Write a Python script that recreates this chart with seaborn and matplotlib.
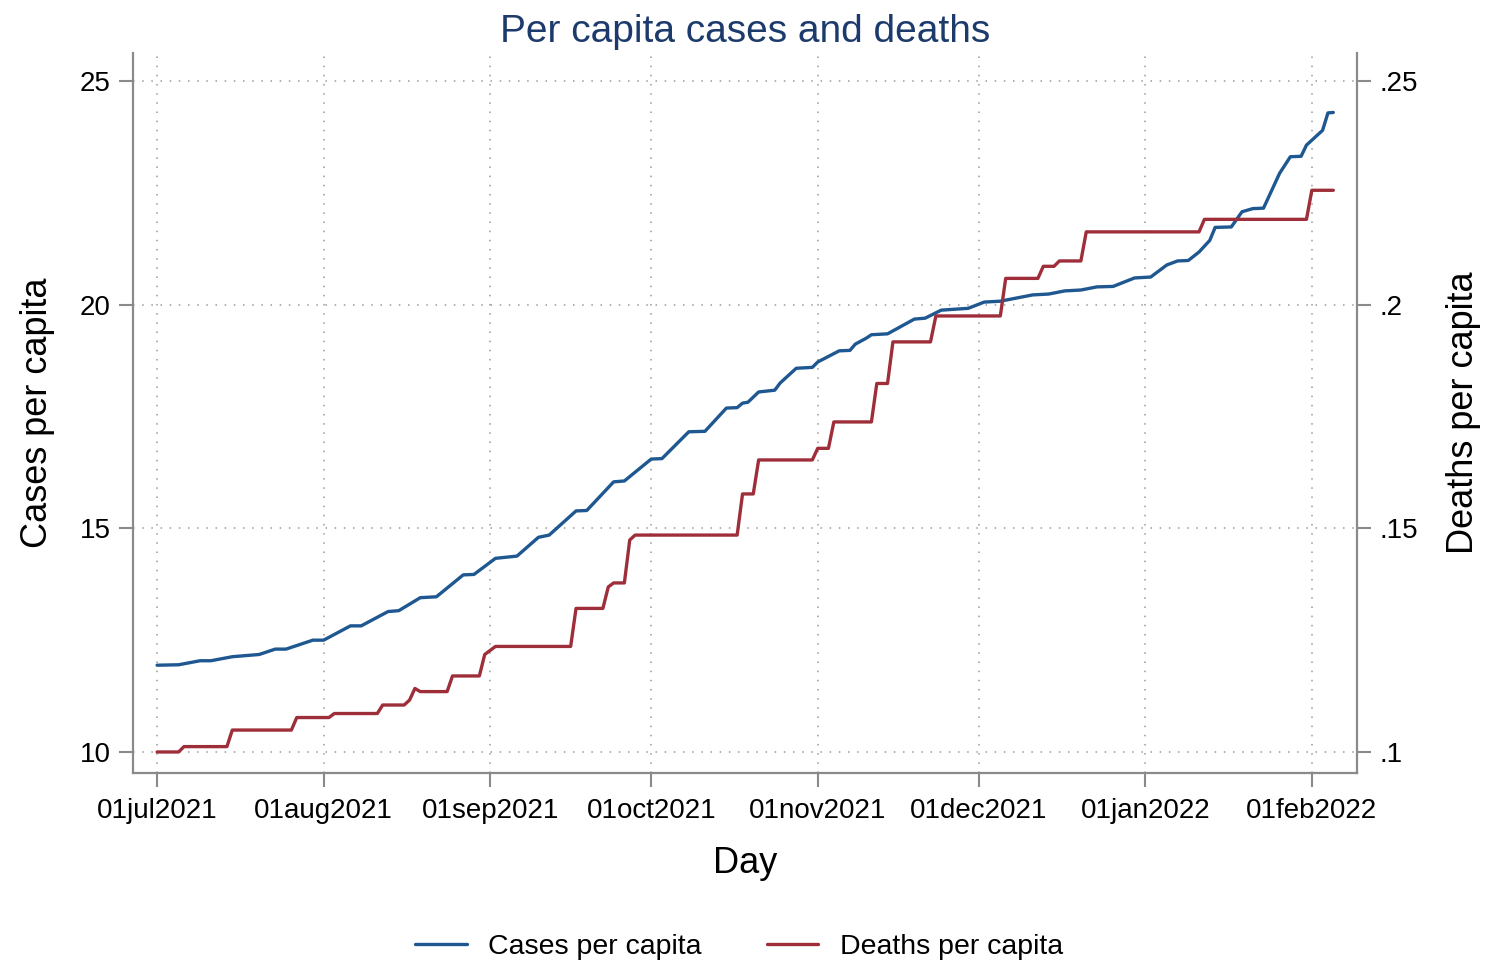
# Per capita cases and deaths - dual axis line chart

import pandas as pd
import matplotlib
matplotlib.use('Agg')
import matplotlib.pyplot as plt
import seaborn as sns

# Cases per capita (left axis)
case_dates = [
    '2021-07-01', '2021-07-05', '2021-07-09', '2021-07-11', '2021-07-15', '2021-07-19',
    '2021-07-20', '2021-07-23', '2021-07-25', '2021-07-30', '2021-08-01', '2021-08-06',
    '2021-08-08', '2021-08-13', '2021-08-15', '2021-08-19', '2021-08-22', '2021-08-27',
    '2021-08-29', '2021-09-02', '2021-09-06', '2021-09-10', '2021-09-12', '2021-09-17',
    '2021-09-19', '2021-09-24', '2021-09-26', '2021-10-01', '2021-10-03', '2021-10-08',
    '2021-10-11', '2021-10-15', '2021-10-17', '2021-10-18', '2021-10-19', '2021-10-21',
    '2021-10-24', '2021-10-25', '2021-10-28', '2021-10-31', '2021-11-01', '2021-11-05',
    '2021-11-07', '2021-11-08', '2021-11-10', '2021-11-11', '2021-11-14', '2021-11-19',
    '2021-11-21', '2021-11-24', '2021-11-29', '2021-12-02', '2021-12-05', '2021-12-11',
    '2021-12-14', '2021-12-17', '2021-12-20', '2021-12-23', '2021-12-26', '2021-12-30',
    '2022-01-02', '2022-01-05', '2022-01-07', '2022-01-09', '2022-01-11', '2022-01-13',
    '2022-01-14', '2022-01-17', '2022-01-19', '2022-01-21', '2022-01-23', '2022-01-26',
    '2022-01-28', '2022-01-30', '2022-01-31', '2022-02-03', '2022-02-04', '2022-02-05',
]
case_values = [
    11.94, 11.95, 12.04, 12.04, 12.13, 12.17,
    12.18, 12.30, 12.30, 12.50, 12.50, 12.82,
    12.82, 13.14, 13.16, 13.45, 13.47, 13.96,
    13.97, 14.33, 14.38, 14.80, 14.85, 15.39,
    15.40, 16.04, 16.06, 16.55, 16.56, 17.16,
    17.17, 17.69, 17.70, 17.80, 17.82, 18.05,
    18.09, 18.25, 18.58, 18.60, 18.72, 18.97,
    18.98, 19.12, 19.25, 19.33, 19.35, 19.68,
    19.70, 19.88, 19.92, 20.06, 20.08, 20.22,
    20.24, 20.31, 20.33, 20.40, 20.41, 20.60,
    20.62, 20.89, 20.98, 20.99, 21.18, 21.44,
    21.73, 21.74, 22.08, 22.15, 22.16, 22.94,
    23.31, 23.32, 23.57, 23.90, 24.29, 24.30,
]

# Deaths per capita (right axis)
death_dates = [
    '2021-07-01', '2021-07-05', '2021-07-06', '2021-07-14', '2021-07-15', '2021-07-26',
    '2021-07-27', '2021-08-02', '2021-08-03', '2021-08-11', '2021-08-12', '2021-08-16',
    '2021-08-17', '2021-08-18', '2021-08-19', '2021-08-24', '2021-08-25', '2021-08-30',
    '2021-08-31', '2021-09-02', '2021-09-16', '2021-09-17', '2021-09-22', '2021-09-23',
    '2021-09-24', '2021-09-26', '2021-09-27', '2021-09-28', '2021-10-17', '2021-10-18',
    '2021-10-20', '2021-10-21', '2021-10-31', '2021-11-01', '2021-11-03', '2021-11-04',
    '2021-11-11', '2021-11-12', '2021-11-14', '2021-11-15', '2021-11-22', '2021-11-23',
    '2021-12-05', '2021-12-06', '2021-12-12', '2021-12-13', '2021-12-15', '2021-12-16',
    '2021-12-20', '2021-12-21', '2022-01-11', '2022-01-12', '2022-01-31', '2022-02-01',
    '2022-02-05',
]
death_values = [
    .1000, .1000, .1012, .1012, .1049, .1049,
    .1077, .1077, .1086, .1086, .1105, .1105,
    .1116, .1142, .1135, .1135, .1170, .1170,
    .1218, .1236, .1236, .1321, .1321, .1369,
    .1378, .1378, .1474, .1485, .1485, .1577,
    .1577, .1653, .1653, .1679, .1679, .1738,
    .1738, .1824, .1824, .1917, .1917, .1975,
    .1975, .2059, .2059, .2086, .2086, .2098,
    .2098, .2163, .2163, .2191, .2191, .2256,
    .2256,
]

month_ticks = ['2021-07-01', '2021-08-01', '2021-09-01', '2021-10-01',
               '2021-11-01', '2021-12-01', '2022-01-01', '2022-02-01']
month_labels = ['01jul2021', '01aug2021', '01sep2021', '01oct2021',
                '01nov2021', '01dec2021', '01jan2022', '01feb2022']
left_ticks = [10, 15, 20, 25]
right_ticks = [.1, .15, .2, .25]
right_labels = ['.1', '.15', '.2', '.25']

cases = pd.DataFrame({'Day': pd.to_datetime(case_dates), 'Cases': case_values})
deaths = pd.DataFrame({'Day': pd.to_datetime(death_dates), 'Deaths': death_values})

sns.set_style('white')
plt.rcParams['font.family'] = ['Liberation Sans', 'DejaVu Sans']
plt.rcParams['text.color'] = 'black'
plt.rcParams['axes.labelcolor'] = 'black'

blue = '#1f5791'
red = '#9e2f3a'
grey = '#8a8a8a'

fig = plt.figure(figsize=(14.87, 9.6), dpi=100)
ax = fig.add_axes([0.0894, 0.1948, 0.8232, 0.750])
ax2 = ax.twinx()

sns.lineplot(data=cases, x='Day', y='Cases', ax=ax, color=blue, lw=2.4, label='Cases per capita')
sns.lineplot(data=deaths, x='Day', y='Deaths', ax=ax2, color=red, lw=2.4, label='Deaths per capita')
for a in (ax, ax2):
    if a.get_legend() is not None:
        a.get_legend().remove()

ax.set_xlim(pd.Timestamp('2021-07-01') - pd.Timedelta(hours=108),
            pd.Timestamp('2022-02-05') + pd.Timedelta(hours=106))
ax.set_ylim(9.53, 25.63)
ax2.set_ylim(0.0953, 0.2563)

ax.set_xticks(pd.to_datetime(month_ticks))
ax.set_xticklabels(month_labels)
ax.set_yticks(left_ticks)
ax.set_yticklabels([str(t) for t in left_ticks])
ax2.set_yticks(right_ticks)
ax2.set_yticklabels(right_labels)

ax.grid(True, color='#9a9a9a', linestyle=(0, (1, 5)), lw=1.1)

for a in (ax, ax2):
    a.spines['top'].set_visible(False)
    for s in a.spines.values():
        s.set_color(grey)
        s.set_linewidth(1.6)
    a.tick_params(direction='out', length=10, width=1.5, color=grey,
                  labelsize=20, pad=6, labelcolor='black')
ax.spines['right'].set_visible(False)
ax2.spines['left'].set_visible(False)
ax2.spines['bottom'].set_visible(False)
ax.tick_params(axis='y', left=True)
ax.tick_params(axis='x', bottom=True, pad=8)
ax2.tick_params(axis='y', right=True)

ax.set_xlabel('Day', fontsize=26, labelpad=16)
ax.set_ylabel('Cases per capita', fontsize=26, labelpad=18)
ax2.set_ylabel('Deaths per capita', fontsize=26, labelpad=20)
ax.set_title('Per capita cases and deaths', fontsize=28, color='#1c3a6b', pad=8)

handles = ax.get_lines()[:1] + ax2.get_lines()[:1]
fig.legend(handles, ['Cases per capita', 'Deaths per capita'], loc='lower center',
           bbox_to_anchor=(0.497, -0.027), ncol=2, frameon=False, fontsize=20.5,
           handlelength=1.8, handletextpad=0.75, columnspacing=2.3)

fig.savefig('out.png', dpi=100)
